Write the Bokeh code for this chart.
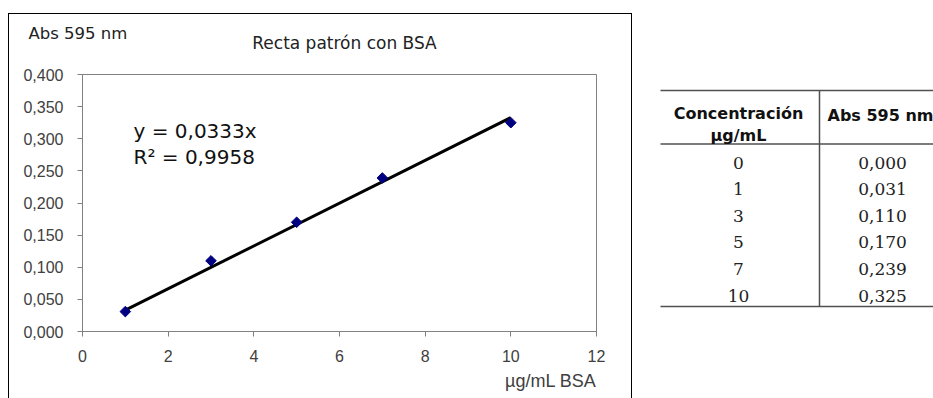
from bokeh.plotting import figure
from bokeh.layouts import row
from bokeh.models import (Range1d, FixedTicker, CustomJSTickFormatter, Label,
                          ColumnDataSource)
from bokeh.core.properties import value
from bokeh.embed import file_html
from bokeh.resources import INLINE
import math

# ---- data: BSA standard curve (Bradford, Abs at 595 nm) ----
conc_ug_ml = [0, 1, 3, 5, 7, 10]
abs_595 = [0.000, 0.031, 0.110, 0.170, 0.239, 0.325]
slope = 0.0333
r_squared = 0.9958

x_ticks = [0, 2, 4, 6, 8, 10, 12]
y_ticks = [0.0, 0.05, 0.10, 0.15, 0.20, 0.25, 0.30, 0.35, 0.40]

title_text = "Recta patrón con BSA"
y_title = "Abs 595 nm"
x_title = "µg/mL BSA"
table_headers = [["Concentración", "µg/mL"], ["Abs 595 nm"]]


def comma_dec(v, nd=3):
    return f"{v:.{nd}f}".replace(".", ",")


# ---- chart ----
CW = 632                      # width of the chart canvas
BOX_L, BOX_T, BOX_R = 8, 13, 631  # black frame drawn around the chart
frame_css = {
    "background-color": "white",
    "background-image": "linear-gradient(#000,#000), linear-gradient(#000,#000), "
                        "linear-gradient(#000,#000)",
    "background-repeat": "no-repeat",
    "background-size": f"{BOX_R - BOX_L + 1}px 1px, 1px 400px, 1px 400px",
    "background-position": f"{BOX_L}px {BOX_T}px, {BOX_L}px {BOX_T}px, {BOX_R}px {BOX_T}px",
}

p = figure(width=CW, height=398, x_range=Range1d(0, 12), y_range=Range1d(0, 0.4),
           title=None, output_backend="svg", toolbar_location=None,
           min_border_left=82, min_border_right=CW - 596,
           min_border_top=74, min_border_bottom=67, styles=frame_css)
p.background_fill_color = "white"
p.border_fill_color = None
p.grid.visible = False
p.outline_line_color = "#808080"
p.outline_line_width = 1

p.xaxis.ticker = FixedTicker(ticks=x_ticks)
p.yaxis.ticker = FixedTicker(ticks=y_ticks)
p.yaxis.formatter = CustomJSTickFormatter(code="return tick.toFixed(3).replace('.', ',');")
for ax in (p.xaxis[0], p.yaxis[0]):
    ax.axis_line_color = "#808080"
    ax.major_tick_line_color = "#808080"
    ax.major_tick_out = 5
    ax.major_tick_in = 0
    ax.minor_tick_line_color = None
    ax.major_label_text_font = "Liberation Sans"
    ax.major_label_text_font_size = "16px"
    ax.major_label_text_color = "#404040"
p.yaxis.major_label_standoff = 14
p.xaxis.major_label_standoff = 13

# points of the standard series (blank excluded)
pts = [(c, a) for c, a in zip(conc_ug_ml, abs_595) if c > 0]
src = ColumnDataSource(dict(x=[c for c, _ in pts], y=[a for _, a in pts]))

# linear trendline through origin, spanning the measured range
x_fit = [min(src.data["x"]), max(src.data["x"])]
y_fit = [slope * v for v in x_fit]
p.line(x_fit, y_fit, line_color="black", line_width=3)
p.scatter("x", "y", source=src, marker="square", size=7.5, angle=math.pi / 4,
          fill_color="#000080", line_color="#000080")


def canvas_label(x, y, text, **kw):
    return Label(x=x, y=y, x_units="canvas", y_units="canvas", text=text,
                 text_baseline="middle", **kw)


# texts outside the plot area live in side panels
p.add_layout(canvas_label(28, 33, y_title, text_font="DejaVu Sans",
                          text_font_size="16.5px", text_color="#222222"), "above")
p.add_layout(canvas_label(344, 42, title_text, text_align="center", text_font="DejaVu Sans",
                          text_font_size="17px", text_color="#222222"), "above")
p.add_layout(canvas_label(596, 380, x_title, text_align="right", text_font="Liberation Sans",
                          text_font_size="18px", text_color="#404040"), "below")
# regression equation inside the plot area
p.add_layout(canvas_label(133, 130, f"y = {comma_dec(slope, 4)}x", text_font="DejaVu Sans",
                          text_font_size="20px", text_color="#111111"))
p.add_layout(canvas_label(133, 156, f"R² = {comma_dec(r_squared, 4)}", text_font="DejaVu Sans",
                          text_font_size="20px", text_color="#111111"))

# ---- data table (page pixel coordinates) ----
TX0 = CW
t = figure(width=933 - TX0, height=398, x_range=Range1d(TX0, 933), y_range=Range1d(331, 74),
           title=None, output_backend="svg", toolbar_location=None,
           x_axis_type=None, y_axis_type=None,
           min_border_left=0, min_border_right=0, min_border_top=74, min_border_bottom=67)
t.grid.visible = False
t.outline_line_color = None
t.background_fill_color = "white"
t.border_fill_color = "white"

col_x = [738, 882]
first_row_y = 162
row_pitch = 26.6
table_left, table_right, col_split = 660, 960, 819
rule_top, rule_head, rule_bottom = 90, 143.5, 306

t.segment(x0=[table_left] * 3, y0=[rule_top, rule_head, rule_bottom],
          x1=[table_right] * 3, y1=[rule_top, rule_head, rule_bottom],
          line_color="#505050", line_width=1.5)
t.segment(x0=[col_split], y0=[rule_top], x1=[col_split], y1=[rule_bottom],
          line_color="#505050", line_width=1.5)

# header cells
t.text(x=[col_x[0], col_x[0], 827], y=[113, 135, 115],
       text=[table_headers[0][0], table_headers[0][1], table_headers[1][0]],
       text_align=["center", "center", "left"], text_baseline="middle",
       text_font=value("DejaVu Sans"), text_font_style="bold",
       text_font_size="16px", text_color="#111111")

rows_y = [first_row_y + i * row_pitch for i in range(len(conc_ug_ml))]
t.text(x=[col_x[0]] * len(conc_ug_ml), y=rows_y, text=[str(c) for c in conc_ug_ml],
       text_align="center", text_baseline="middle", text_font=value("DejaVu Serif"),
       text_font_size="17px", text_color="#222222")
t.text(x=[col_x[1]] * len(abs_595), y=rows_y, text=[comma_dec(a) for a in abs_595],
       text_align="center", text_baseline="middle", text_font=value("DejaVu Serif"),
       text_font_size="17px", text_color="#222222")

layout = row(p, t)
open("out.html", "w").write(file_html(layout, INLINE))
